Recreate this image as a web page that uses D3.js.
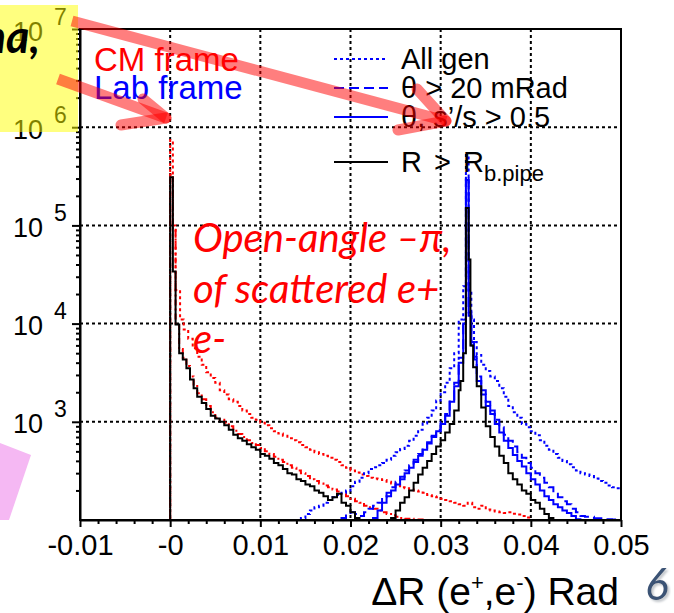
<!DOCTYPE html>
<html>
<head>
<meta charset="utf-8">
<script src="https://cdn.jsdelivr.net/npm/d3@7"></script>
<style>
body { margin: 0; background: #fff; }
svg { display: block; }
text { font-family: "Liberation Sans", Arial, sans-serif; }
</style>
</head>
<body>
<svg id="chart"></svg>
<script>
// axis setup
var xDomain = [-0.01, 0.05]
var yDomain = [100, 1e7]
var xTickValues = [-0.01, 0, 0.01, 0.02, 0.03, 0.04, 0.05]
var xTickLabels = ["-0.01", "-0", "0.01", "0.02", "0.03", "0.04", "0.05"]
var yExponents = [3, 4, 5, 6, 7]
var gridX = [0, 0.01, 0.02, 0.03, 0.04]
var gridY = [1e3, 1e4, 1e5, 1e6]

// histograms: [bin low edge, count], last entry closes the last bin
var redAllBins = [[0,7.4e5],[.0003,1.0e5],[.0006,2.2e4],[.0011,1.1e4],[.0015,8700],[.002,7000],[.0025,5600],[.003,4600],[.0035,3800],[.004,3200],[.0045,2800],[.005,2500],[.0055,2100],[.006,1900],[.0065,1700],[.007,1600],[.0075,1450],[.008,1300],[.0085,1200],[.009,1100],[.0095,1050],[.01,980],[.0105,920],[.011,860],[.0115,800],[.012,760],[.0125,720],[.013,680],[.0135,650],[.014,620],[.0145,580],[.015,550],[.0155,520],[.016,490],[.0165,470],[.017,450],[.0175,430],[.018,410],[.0185,390],[.019,360],[.0195,340],[.02,320],[.0205,305],[.021,290],[.0215,280],[.022,270],[.0225,265],[.023,260],[.0235,255],[.024,245],[.0245,235],[.025,225],[.0255,215],[.026,210],[.0265,205],[.027,200],[.0275,195],[.028,190],[.0285,180],[.029,175],[.0295,170],[.03,165],[.0305,160],[.031,155],[.0315,150],[.032,145],[.0325,140],[.033,150],[.0335,135],[.034,130],[.0345,140],[.035,128],[.0355,125],[.036,122],[.0365,120],[.037,118],[.0375,120],[.038,116],[.0385,114],[.039,110],[.0395,106],[.04,80],[.0405,null]]

var redCutBins = [[0,3.3e5],[.0003,9.0e4],[.0006,1.0e4],[.001,5500],[.0014,4500],[.0018,3700],[.0022,2900],[.0026,2400],[.003,1950],[.0035,1700],[.004,1450],[.0045,1250],[.005,1100],[.0055,1050],[.006,980],[.0065,900],[.007,810],[.0075,750],[.008,700],[.0085,650],[.009,610],[.0095,580],[.01,540],[.0105,500],[.011,470],[.0115,440],[.012,410],[.0125,390],[.013,360],[.0135,340],[.014,320],[.0145,300],[.015,280],[.0155,260],[.016,250],[.0165,235],[.017,225],[.0175,215],[.018,205],[.0185,195],[.019,185],[.0195,175],[.02,165],[.0205,155],[.021,150],[.0215,140],[.022,135],[.0225,130],[.023,125],[.0235,120],[.024,115],[.0245,112],[.025,108],[.0255,105],[.026,103],[.027,101],[.028,80],[.029,null]]

var blueAllBins = [[.0145,105],[.015,115],[.0155,125],[.016,135],[.0165,140],[.017,150],[.0175,160],[.018,170],[.0185,180],[.019,190],[.0195,200],[.02,220],[.0205,245],[.021,270],[.0215,300],[.022,330],[.0225,345],[.023,360],[.0235,380],[.024,410],[.0245,450],[.025,490],[.0255,530],[.026,570],[.0265,640],[.027,720],[.0275,830],[.028,960],[.0285,1100],[.029,1300],[.0295,1650],[.03,2000],[.0305,2500],[.031,3500],[.0315,5000],[.032,1.1e4],[.0325,2.4e4],[.0328,5.2e5],[.0331,2.2e4],[.0334,1.1e4],[.0337,6500],[.034,4800],[.0345,3800],[.035,3300],[.0355,2900],[.036,2600],[.0365,2200],[.037,1800],[.0375,1450],[.038,1250],[.0385,1100],[.039,950],[.0395,880],[.04,800],[.0405,730],[.041,650],[.0415,570],[.042,520],[.0425,470],[.043,430],[.0435,400],[.044,370],[.0445,345],[.045,320],[.0455,300],[.046,290],[.0465,280],[.047,265],[.0475,250],[.048,240],[.0485,225],[.049,215],[.0495,210],[.05,null]]

var blueThetaBins = [[.019,105],[.0195,115],[.02,120],[.0205,115],[.021,110],[.0215,120],[.022,130],[.0225,140],[.023,150],[.0235,170],[.024,190],[.0245,215],[.025,245],[.0255,275],[.026,320],[.0265,360],[.027,410],[.0275,470],[.028,540],[.0285,620],[.029,720],[.0295,830],[.03,1000],[.0305,1200],[.031,1700],[.0315,2500],[.032,4500],[.0325,1.1e4],[.0328,3.2e5],[.0331,1.3e4],[.0334,6500],[.0337,4600],[.034,2900],[.0345,2100],[.035,1600],[.0355,1300],[.036,1050],[.0365,880],[.037,740],[.0375,640],[.038,560],[.0385,490],[.039,430],[.0395,380],[.04,340],[.0405,300],[.041,270],[.0415,240],[.042,215],[.0425,190],[.043,170],[.0435,155],[.044,145],[.0445,130],[.045,120],[.0455,110],[.046,108],[.047,104],[.048,102],[.049,101],[.05,null]]

var blueSBins = [[.021,80],[.0225,105],[.023,125],[.0235,150],[.024,175],[.0245,200],[.025,230],[.0255,260],[.026,300],[.0265,340],[.027,390],[.0275,450],[.028,520],[.0285,600],[.029,700],[.0295,800],[.03,950],[.0305,1150],[.031,1600],[.0315,2300],[.032,4000],[.0325,1.0e4],[.0328,2.9e5],[.0331,1.2e4],[.0334,6000],[.0337,4300],[.034,2600],[.0345,1900],[.035,1450],[.0355,1200],[.036,950],[.0365,780],[.037,640],[.0375,540],[.038,460],[.0385,400],[.039,350],[.0395,300],[.04,260],[.0405,230],[.041,200],[.0415,175],[.042,160],[.0425,145],[.043,135],[.0435,125],[.044,118],[.0445,110],[.045,102],[.0455,80],[.046,null]]

var blackBins = [[0,3.1e5],[.0003,3.4e4],[.0006,9800],[.001,5000],[.0014,4300],[.0018,3500],[.0022,2700],[.0026,2200],[.003,1800],[.0035,1550],[.004,1350],[.0045,1150],[.005,1080],[.0055,1000],[.006,920],[.0065,830],[.007,740],[.0075,680],[.008,640],[.0085,590],[.009,550],[.0095,520],[.01,470],[.0105,450],[.011,420],[.0115,380],[.012,360],[.0125,330],[.013,300],[.0135,290],[.014,260],[.0145,250],[.015,230],[.0155,220],[.016,200],[.0165,190],[.017,175],[.0175,160],[.018,170],[.0185,185],[.019,150],[.0195,140],[.02,120],[.0205,105],[.021,80],[.0245,105],[.025,125],[.0255,150],[.026,170],[.0265,200],[.027,240],[.0275,290],[.028,340],[.0285,400],[.029,470],[.0295,560],[.03,650],[.0305,780],[.031,950],[.0315,1300],[.032,2100],[.0322,2600],[.0325,5000],[.0328,1.5e5],[.0331,4.5e4],[.0333,6000],[.0336,3600],[.034,2300],[.0345,1400],[.035,900],[.0355,700],[.036,560],[.0365,450],[.037,380],[.0375,300],[.038,260],[.0385,230],[.039,200],[.0395,185],[.04,160],[.0405,150],[.041,130],[.0415,115],[.042,105],[.0425,80],[.043,null]]

var legendLabels = ["All gen", "θ > 20 mRad", "θ, s’/s > 0.5", "R > R"]
var legendColors = ["#0000FF", "#0000FF", "#0000FF", "#000000"]
var legendDash = ["3,3", "10,5", null, null]
var noteLines = ["Open-angle –π,", "of scattered e+", "e-"]

var dims = { width: 674, height: 613, left: 80, right: 621, top: 29, bottom: 520 }

var svg = d3.select("#chart")
	.attr("width", dims.width)
	.attr("height", dims.height)
	.style("background", "#fff")

var xScale = d3.scaleLinear().domain(xDomain).range([dims.left, dims.right])
var yScale = d3.scaleLog().domain(yDomain).range([dims.bottom, dims.top]).clamp(true)

var defs = svg.append("defs")
defs.append("filter").attr("id", "shadow")
	.append("feDropShadow")
	.attr("dx", 2).attr("dy", 2).attr("stdDeviation", 1)
	.attr("flood-color", "#9aa0a8").attr("flood-opacity", 0.6)

// pink slide shape bottom-left
svg.append("polygon")
	.attr("points", "0,443 31,455 9,520 0,520")
	.attr("fill", "#F5B8F3")

defs.append("clipPath").attr("id", "plotclip")
	.append("rect")
	.attr("x", dims.left).attr("y", dims.top - 1)
	.attr("width", dims.right - dims.left).attr("height", dims.bottom - dims.top + 1)

// grid
svg.append("g").selectAll("line").data(gridX).enter().append("line")
	.attr("x1", d => xScale(d)).attr("x2", d => xScale(d))
	.attr("y1", dims.top).attr("y2", dims.bottom)
	.attr("stroke", "#000").attr("stroke-width", 2).attr("stroke-dasharray", "3,3")
svg.append("g").selectAll("line").data(gridY).enter().append("line")
	.attr("y1", d => yScale(d)).attr("y2", d => yScale(d))
	.attr("x1", dims.left).attr("x2", dims.right)
	.attr("stroke", "#000").attr("stroke-width", 2).attr("stroke-dasharray", "3,3")

// histograms as step lines
var step = d3.line()
	.x(d => xScale(d[0]))
	.y(d => yScale(d[1] == null ? yDomain[0] : d[1]))
	.curve(d3.curveStepAfter)

function drawHist(bins, color, dash) {
	svg.append("path")
		.datum([[bins[0][0], null]].concat(bins))
		.attr("d", step)
		.attr("clip-path", "url(#plotclip)")
		.style("fill", "none")
		.style("stroke", color)
		.style("stroke-width", 2)
		.style("stroke-dasharray", dash)
}
drawHist(redAllBins, "#FF0000", "3,3")
drawHist(redCutBins, "#FF0000", "6,3,2,3")
drawHist(blueAllBins, "#0000FF", "3,3")
drawHist(blueThetaBins, "#0000FF", "10,5")
drawHist(blueSBins, "#0000FF", null)
drawHist(blackBins, "#000000", null)

// frame
svg.append("rect")
	.attr("x", dims.left).attr("y", dims.top)
	.attr("width", dims.right - dims.left).attr("height", dims.bottom - dims.top)
	.attr("fill", "none").attr("stroke", "#000").attr("stroke-width", 2)

// x axis
var xMinor = d3.range(-0.01, 0.0501, 0.002).filter(v => Math.abs(v * 100 - Math.round(v * 100)) > 1e-6)
svg.append("g")
	.attr("transform", "translate(0," + dims.bottom + ")")
	.call(d3.axisBottom(xScale).tickValues(xMinor).tickSize(4).tickFormat(""))
	.call(g => g.select(".domain").remove())
	.selectAll("line").attr("stroke-width", 2)
var xAxis = svg.append("g")
	.attr("transform", "translate(0," + dims.bottom + ")")
	.call(d3.axisBottom(xScale).tickValues(xTickValues)
		.tickFormat((d, i) => xTickLabels[i]).tickSizeInner(7).tickSizeOuter(0).tickPadding(15))
xAxis.select(".domain").attr("stroke-width", 2)
xAxis.selectAll("line").attr("stroke-width", 2)
xAxis.selectAll("text")
	.attr("dy", "0")
	.style("font-family", "Liberation Sans, Arial, sans-serif")
	.style("font-size", "29px")
	.attr("y", 35)
	.attr("fill", "#000")

// y axis
var yMinor = []
yExponents.slice(0, -1).concat([2]).forEach(e => {
	for (var k = 2; k < 10; k++) yMinor.push(k * Math.pow(10, e))
})
svg.append("g")
	.attr("transform", "translate(" + dims.left + ",0)")
	.call(d3.axisLeft(yScale).tickValues(yMinor).tickSize(4).tickFormat(""))
	.call(g => g.select(".domain").remove())
	.selectAll("line").attr("stroke-width", 2)
var yAxis = svg.append("g")
	.attr("transform", "translate(" + dims.left + ",0)")
	.call(d3.axisLeft(yScale).tickValues(yExponents.map(e => Math.pow(10, e)))
		.tickSizeInner(8).tickSizeOuter(0).tickFormat(""))
yAxis.select(".domain").attr("stroke-width", 2)
yAxis.selectAll("line").attr("stroke-width", 2)
yAxis.selectAll(".tick").each(function (d) {
	var g = d3.select(this)
	g.append("text").text("10")
		.attr("x", -37).attr("y", 11)
		.attr("text-anchor", "end")
		.attr("fill", "#000")
		.style("font-size", "27px")
	g.append("text").text(Math.round(Math.log10(d)))
		.attr("x", -26).attr("y", -5)
		.attr("text-anchor", "start")
		.attr("fill", "#000")
		.style("font-size", "23px")
})

// axis title
var title = svg.append("text")
	.attr("x", 619).attr("y", 605)
	.attr("text-anchor", "end")
	.style("font-size", "39px")
title.append("tspan").text("ΔR (e")
title.append("tspan").text("+").attr("dy", -15).style("font-size", "22px")
title.append("tspan").text(",e").attr("dy", 15)
title.append("tspan").text("-").attr("dy", -15).style("font-size", "22px")
title.append("tspan").text(") Rad").attr("dy", 15)

// frame legend
svg.append("text").text("CM frame").attr("x", 94).attr("y", 71)
	.attr("fill", "#FF0000").style("font-size", "33px")
svg.append("text").text("Lab frame").attr("x", 94).attr("y", 99)
	.attr("fill", "#0000FF").style("font-size", "33px")

// cut legend
var legendY = [59, 88, 117, 162]
var legend = svg.append("g").attr("class", "legend")
legend.selectAll("line").data(legendLabels).enter().append("line")
	.attr("x1", 334).attr("x2", 388)
	.attr("y1", (d, i) => legendY[i]).attr("y2", (d, i) => legendY[i])
	.attr("stroke", (d, i) => legendColors[i])
	.attr("stroke-width", 2)
	.attr("stroke-dasharray", (d, i) => legendDash[i])
legend.selectAll("text").data(legendLabels).enter().append("text")
	.text(d => d)
	.attr("x", 401)
	.attr("y", (d, i) => legendY[i] + 10)
	.attr("fill", "#000")
	.style("font-size", "29px")
	.style("word-spacing", (d, i) => i == 3 ? "4px" : null)
legend.select("text:last-of-type")
	.append("tspan").text("b.pipe").attr("dy", 9).style("font-size", "22px")

// red annotation
svg.append("g").selectAll("text").data(noteLines).enter().append("text")
	.text(d => d)
	.attr("x", 193)
	.attr("y", (d, i) => 252 + i * 50.5)
	.attr("fill", "#FF0000")
	.style("font-family", "Lato, 'Open Sans', sans-serif")
	.style("font-style", "italic")
	.style("font-size", "40px")

// yellow callout box over the top labels
svg.append("rect")
	.attr("x", 0).attr("y", 5).attr("width", 78).attr("height", 127)
	.attr("fill", "#FFFF00").attr("opacity", 0.5)
svg.append("text").text("na,")
	.attr("x", 40).attr("y", 53)
	.attr("text-anchor", "end")
	.attr("fill", "#000")
	.style("font-family", "Lato, 'Open Sans', sans-serif")
	.style("font-style", "italic")
	.style("font-weight", "bold")
	.style("font-size", "45px")

// red arrows
var arrows = [
	{ from: [72, 21], tip: [446, 121], barbs: [[398, 130], [417, 89]] },
	{ from: [58, 79], tip: [166, 118], barbs: [[121, 125], [143, 99]] }
]
arrows.forEach(a => {
	svg.append("line")
		.attr("x1", a.from[0]).attr("y1", a.from[1]).attr("x2", a.tip[0]).attr("y2", a.tip[1])
		.attr("stroke", "#FF0000").attr("stroke-width", 11).attr("opacity", 0.5)
	a.barbs.forEach(b => {
		svg.append("line")
			.attr("x1", b[0]).attr("y1", b[1]).attr("x2", a.tip[0]).attr("y2", a.tip[1])
			.attr("stroke", "#FF0000").attr("stroke-width", 11).attr("opacity", 0.5)
			.attr("stroke-linecap", "round")
	})
})

// slide number
svg.append("text").text("6").attr("x", 645).attr("y", 600)
	.attr("fill", "#3A5274")
	.attr("filter", "url(#shadow)")
	.style("font-family", "Lato, sans-serif").style("font-style", "italic").style("font-size", "44px")
</script>
</body>
</html>
